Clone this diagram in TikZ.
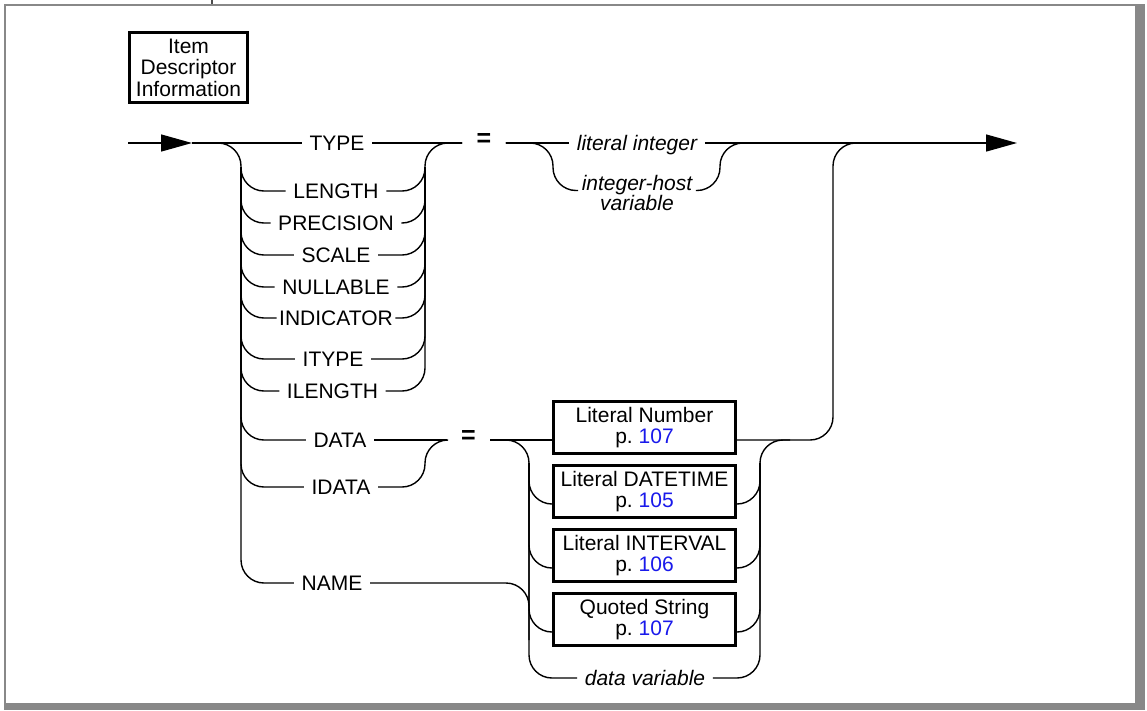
\documentclass[tikz,border=0pt]{standalone}
\usepackage{fontspec}
\setmainfont{Liberation Sans}
\usepackage{xcolor}
\usepackage{tikz}
\usetikzlibrary{arrows.meta,positioning}
\definecolor{linkblue}{RGB}{25,25,235}
\definecolor{framegray}{RGB}{136,136,136}
\newcommand{\pgref}[1]{p.~\textcolor{linkblue}{#1}}

\begin{document}
\begin{tikzpicture}[x=1pt,y=-1pt,>={Triangle[length=31pt,width=17pt]},line width=1.4pt,
  every node/.style={font=\fontsize{21}{21.5}\selectfont,align=center},
  kw/.style={inner xsep=7pt,inner ysep=0pt,text height=15pt,text depth=0pt},
  var/.style={kw,font=\fontsize{21}{21.5}\selectfont\itshape},
  eqs/.style={kw,minimum width=42pt,inner xsep=0pt,font=\fontsize{25}{25}\selectfont\bfseries},
  refbox/.style={draw,line width=2.6pt,minimum width=182.4pt,minimum height=52.4pt,inner sep=0pt},
  rr/.style={rounded corners=23pt}]
\useasboundingbox (0,0) rectangle (1147,710);
\fill[framegray] (4,4) rectangle (1145,710);
\fill[white] (6,6) rectangle (1135,703);
\draw[line width=1.5pt,black!70] (212,0) -- (212,4);

\node[draw,line width=2.6pt,minimum width=118pt,minimum height=70pt,inner sep=0pt] (idi) at (188.5,67.5) {Item\\Descriptor\\Information};

\coordinate (in) at (128,143);
\coordinate (split) at (192,143);
\coordinate (out) at (1017,143);

\node[kw] (type) at (337,143) {TYPE};
\node[kw] (length) at (336,191) {LENGTH};
\node[kw] (precision) at (336,223) {PRECISION};
\node[kw] (scale) at (336,255) {SCALE};
\node[kw] (nullable) at (336,287) {NULLABLE};
\node[kw,inner xsep=2pt] (indicator) at (336,318) {INDICATOR};
\node[kw] (itype) at (333,359) {ITYPE};
\node[kw] (ilength) at (332.5,391) {ILENGTH};
\node[kw] (data) at (340,440) {DATA};
\node[kw] (idata) at (341,487) {IDATA};
\node[kw] (name) at (332,583) {NAME};

\node[eqs] (eq1) at (484,143) {\raisebox{4pt}{=}};
\node[eqs] (eq2) at (468.5,440) {\raisebox{4pt}{=}};

\node[var] (litint) at (637,143) {literal integer};
\node[var,anchor=base,inner xsep=3pt] (ihost) at (637,190.5) {integer-host};
\node[var,anchor=base] (ivar) at (637,210) {variable};

\node[refbox] (num) at (644.5,427.5) {Literal Number\\\pgref{107}};
\node[refbox,below=9pt of num] (dt) {Literal DATETIME\\\pgref{105}};
\node[refbox,below=9pt of dt] (intv) {Literal INTERVAL\\\pgref{106}};
\node[refbox,below=9pt of intv] (qstr) {Quoted String\\\pgref{107}};
\node[var] (datavar) at (645,678) {data variable};

\draw[->] (in) -- (split);
\draw (split) -- (type.west);
\draw (type.east) -- (eq1.west);
\draw (eq1.east) -- (litint.west);
\draw[->] (litint.east) -- (out);

\draw[rr] (split) -| (241,583) -- (name.west);
\foreach \k in {length,precision,scale,nullable,indicator,itype,ilength,data,idata}
  \draw[rr] (241,167) |- (\k.west);
\foreach \k in {length,precision,scale,nullable,indicator,itype}
  \draw[rr] (\k.east) -| (425,167);
\draw[rr] (ilength.east) -| (425,143) -- (eq1.west);

\draw[rr] (eq1.east) -| (553,190.5) -- (ihost.base west);
\draw[rr] (ihost.base east) -| (720,143) -- (760,143);

\draw (data.east) -- (eq2.west);
\draw[rr] (idata.east) -| (425,440) -- (eq2.west);
\draw (eq2.east) -- ([yshift=-12.5pt]num.west);
\draw[rr] (eq2.east) -| (529,678) -- (datavar.west);
\draw[rr] (name.east) -| (529,640);
\foreach \b in {dt,intv,qstr}
  \draw[rr] (529,463) |- ([yshift=-12.5pt]\b.west);
\foreach \b in {dt,intv,qstr}
  \draw[rr] ([yshift=-12.5pt]\b.east) -| (760,463);
\draw[rr] (datavar.east) -| (760,440) -- (790,440);
\draw[rr] ([yshift=-12.5pt]num.east) -| (833,143) -- (880,143);
\end{tikzpicture}
\end{document}
